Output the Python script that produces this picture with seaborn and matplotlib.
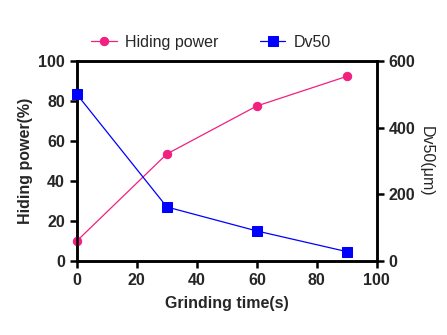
import matplotlib
matplotlib.use("Agg")
import matplotlib.pyplot as plt
import seaborn as sns
import pandas as pd

time_s = [0, 30, 60, 90]
hiding_power = [10.0, 53.5, 77.5, 92.3]
dv50 = [500, 162, 90, 28]

sns.set_style("ticks")
plt.rcParams['font.family'] = ['Liberation Sans', 'DejaVu Sans']

pink = "#F2207F"
blue = "#0000FF"

fig = plt.figure(figsize=(4.47, 3.35), dpi=100)
ax = fig.add_axes([0.172, 0.221, 0.671, 0.597])
ax2 = ax.twinx()

df = pd.DataFrame({"t": time_s, "h": hiding_power, "d": dv50})
sns.lineplot(data=df, x="t", y="h", ax=ax, color=pink, marker="o", markersize=6,
             markeredgecolor=pink, linewidth=0.9, label="Hiding power", legend=False,
             clip_on=False, zorder=5)
sns.lineplot(data=df, x="t", y="d", ax=ax2, color=blue, marker="s", markersize=6.5,
             markeredgecolor=blue, linewidth=0.9, label="Dv50", legend=False,
             clip_on=False, zorder=5)

ax.set_xlim(0, 100)
ax.set_ylim(0, 100)
ax2.set_ylim(0, 600)
ax.set_xticks([0, 20, 40, 60, 80, 100])
ax.set_yticks([0, 20, 40, 60, 80, 100])
ax2.set_yticks([0, 200, 400, 600])

for a in (ax, ax2):
    for s in a.spines.values():
        s.set_linewidth(1.8)
        s.set_color("black")
    a.tick_params(width=1.8, length=5, labelsize=11.5, color="black")
    for lab in a.get_xticklabels() + a.get_yticklabels():
        lab.set_fontweight("bold")

ax.set_xlabel("Grinding time(s)", fontsize=11.5, fontweight="bold", labelpad=6)
ax.set_ylabel("Hiding power(%)", fontsize=11.5, fontweight="bold", labelpad=4)
ax2.set_ylabel("Dv50(μm)", fontsize=11.5, rotation=270, labelpad=13)

h1, l1 = ax.get_legend_handles_labels()
h2, l2 = ax2.get_legend_handles_labels()
fig.legend(h1 + h2, l1 + l2, loc="center", bbox_to_anchor=(0.472, 0.873), ncol=2,
           frameon=False, fontsize=11.5, columnspacing=2.6, handlelength=1.6,
           handletextpad=0.5)

fig.savefig("out.png", dpi=100)
